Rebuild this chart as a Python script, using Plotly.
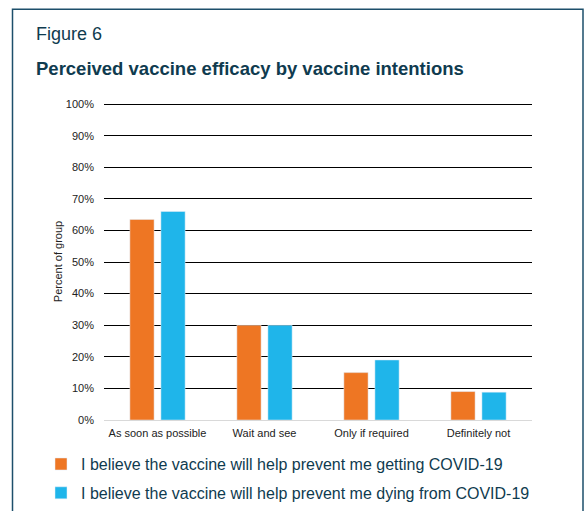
import plotly.graph_objects as go

categories = ["As soon as possible", "Wait and see", "Only if required", "Definitely not"]
getting = [63.5, 30, 15, 9]
dying = [66, 30, 19, 8.8]
series_names = [
    "I believe the vaccine will help prevent me getting COVID-19",
    "I believe the vaccine will help prevent me dying from COVID-19",
]
tick_vals = [0, 10, 20, 30, 40, 50, 60, 70, 80, 90, 100]
tick_text = ["0%", "10%", "20%", "30%", "40%", "50%", "60%", "70%", "80%", "90%", "100%"]

FONT = "Liberation Sans, Arial, sans-serif"
TEAL = "#0f3b4f"

# plot area in pixels
PL, PR, PT, PB = 104, 532, 104, 420
PW, PH = PR - PL, PB - PT


def px_x(x):
    return (x - PL) / PW


def px_y(y):
    return (PB - y) / PH


fig = go.Figure()
fig.add_trace(go.Bar(x=categories, y=getting, name=series_names[0], marker_color="#EE7623",
                     legendgroup="a"))
fig.add_trace(go.Bar(x=categories, y=dying, name=series_names[1], marker_color="#1FB5EA",
                     legendgroup="b"))

fig.update_layout(
    width=586, height=511,
    margin=dict(l=PL, r=586 - PR, t=PT - 1, b=511 - PB, autoexpand=False),
    paper_bgcolor="white", plot_bgcolor="white",
    barmode="group", bargap=0.42, bargroupgap=0.22,
    font=dict(family=FONT, color="#222222", size=10),
    showlegend=True,
    legend=dict(
        x=px_x(41), xanchor="left", y=px_y(447), yanchor="top",
        font=dict(size=16, color=TEAL), traceorder="grouped", tracegroupgap=5,
        bgcolor="rgba(0,0,0,0)",
    ),
    xaxis=dict(
        showgrid=False, showline=False, ticks="", tickangle=0, ticklabelstandoff=5,
        tickfont=dict(size=11, color="#222222"),
    ),
    yaxis=dict(
        range=[0, 100.35], tickmode="array", tickvals=tick_vals, ticktext=tick_text,
        showgrid=True, gridcolor="#000000", gridwidth=1,
        zeroline=True, zerolinecolor="#d9d9d9", zerolinewidth=1,
        showline=False, ticks="", ticklabelstandoff=9, tickfont=dict(size=11, color="#222222"),
        title=dict(text="Percent of group", font=dict(size=11, color="#222222"), standoff=1),
    ),
    annotations=[
        dict(text="Figure 6", xref="paper", yref="paper", x=px_x(34), y=px_y(35),
             xanchor="left", yanchor="middle", showarrow=False,
             font=dict(size=18, color=TEAL, family=FONT)),
        dict(text="<b>Perceived vaccine efficacy by vaccine intentions</b>", xref="paper", yref="paper",
             x=px_x(34), y=px_y(70), xanchor="left", yanchor="middle", showarrow=False,
             font=dict(size=18.5, color=TEAL, family=FONT)),
    ],
    shapes=[
        dict(type="rect", xref="paper", yref="paper", x0=px_x(12.5), x1=px_x(583),
             y0=px_y(530), y1=px_y(10.5),
             line=dict(color="#1d4f6b", width=1.5), layer="below"),
    ],
)

fig.write_html("out.html")
